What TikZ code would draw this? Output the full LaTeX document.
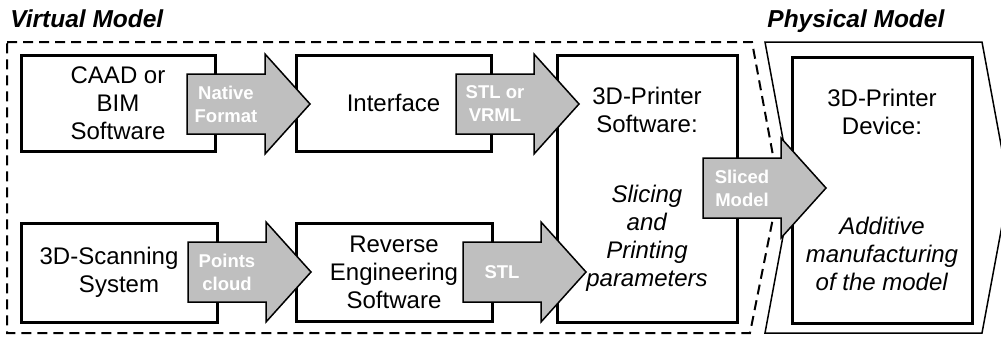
\documentclass[tikz,border=0pt]{standalone}
\usepackage{fontspec}
\setmainfont{Liberation Sans}

\definecolor{arrowgray}{RGB}{191,191,191}

\tikzset{
  stagebox/.style={draw, line width=1.5pt, fill=white, align=center, inner sep=0pt,
    font=\fontsize{12}{14}\selectfont},
  flowarrow/.style={draw, fill=arrowgray, line width=0.75pt, line join=miter},
  flowlabel/.style={text=white, align=center, inner sep=0pt,
    font=\fontsize{9.25}{11.5}\selectfont\bfseries},
  heading/.style={anchor=base west, inner sep=0pt,
    font=\fontsize{12.25}{14}\selectfont\bfseries\itshape},
}

\begin{document}
\begin{tikzpicture}[x=0.5pt, y=-0.5pt]
    \useasboundingbox (0,0) rectangle (1001,337);

    % Titles
    \node[heading] (virtual) at (10,27) {Virtual Model};
    \node[heading] (physical) at (767,27) {Physical Model};

    % Chevron frames
    \draw[line width=1pt, dash pattern=on 5pt off 3pt] (7,42) -- (752,42) -- (779,188) -- (750,333) -- (7,333) -- cycle;
    \draw[line width=0.75pt] (765,42) -- (982,42) -- (1009,188) -- (982,333) -- (765,333) -- (792,188) -- cycle;

    % Stages
    \node[stagebox, minimum width=97pt, minimum height=48pt] (caad) at (118,103) {CAAD or\\BIM\\Software};
    \node[stagebox, minimum width=97.5pt, minimum height=48pt] (iface) at (393.5,103) {Interface};
    \node[stagebox, minimum width=98pt, minimum height=49.5pt] (scan) at (119,272.5) {3D-Scanning\hspace*{10pt}\\System};
    \node[stagebox, minimum width=98pt, minimum height=49pt] (rev) at (394,272) {Reverse\\Engineering\\Software};
    \node[stagebox, minimum width=90pt, minimum height=133.5pt] (slicer) at (647,189)
        {3D-Printer\\Software:\\[21pt]\textit{Slicing}\\\textit{and}\\\textit{Printing}\\\textit{parameters}};
    \node[stagebox, minimum width=90pt, minimum height=133pt] (device) at (882,190)
        {3D-Printer\\Device:\\[36pt]\textit{Additive}\\\textit{manufacturing}\\\textit{of the model}};

    % Block arrows between stages
    \coordinate (fmt) at (226,104);
    \coordinate (vrml) at (495,104);
    \coordinate (pts) at (227,272);
    \coordinate (stl) at (502,272);
    \coordinate (sliced) at (742,188);

    \draw[flowarrow] (fmt) ++(-39,-30) -- ++(78,0) -- ++(0,-20) -- ++(45,50) -- ++(-45,50) -- ++(0,-20) -- ++(-78,0) -- cycle;
    \draw[flowarrow] (vrml) ++(-39,-30) -- ++(78,0) -- ++(0,-20) -- ++(45,50) -- ++(-45,50) -- ++(0,-20) -- ++(-78,0) -- cycle;
    \draw[flowarrow] (pts) ++(-39,-30) -- ++(78,0) -- ++(0,-20) -- ++(45,50) -- ++(-45,50) -- ++(0,-20) -- ++(-78,0) -- cycle;
    \draw[flowarrow] (stl) ++(-39,-30) -- ++(78,0) -- ++(0,-20) -- ++(45,50) -- ++(-45,50) -- ++(0,-20) -- ++(-78,0) -- cycle;
    \draw[flowarrow] (sliced) ++(-39,-30) -- ++(78,0) -- ++(0,-20) -- ++(45,50) -- ++(-45,50) -- ++(0,-20) -- ++(-78,0) -- cycle;

    \node[flowlabel] (fmtlabel) at (fmt) {Native\\Format};
    \node[flowlabel] (vrmllabel) at (vrml) {STL or\\VRML};
    \node[flowlabel] (ptslabel) at (pts) {Points\\cloud};
    \node[flowlabel] (stllabel) at (stl) {STL};
    \node[flowlabel] (slicedlabel) at (sliced) {Sliced\\Model};
\end{tikzpicture}
\end{document}
